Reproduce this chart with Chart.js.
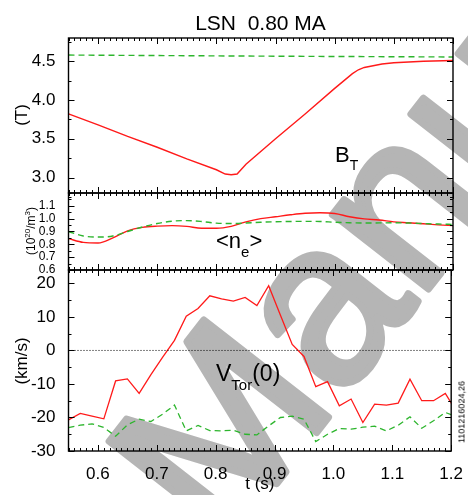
<!DOCTYPE html>
<html lang="en">
<head>
    <meta charset="UTF-8">
    <title>LSN 0.80 MA</title>
    <style>
        * { margin: 0; padding: 0; box-sizing: border-box; }
        body { width: 468px; height: 495px; overflow: hidden; background: #fff; position: relative; font-family: "Liberation Sans", Arial, sans-serif; color: #000; }
        canvas, svg { position: absolute; left: 0; top: 0; }
        .lbl { position: absolute; line-height: 1; white-space: pre; }
        .rot { position: absolute; white-space: nowrap; line-height: 1; transform: translate(-50%, -50%) rotate(-90deg); }
        .sub { position: relative; }
    </style>
    <script src="https://cdn.jsdelivr.net/npm/chart.js"></script>
</head>
<body>
    <!-- watermark sits under the plots -->
    <svg width="468" height="495">
        <g transform="rotate(8 200 420)">
            <g transform="translate(240.5,549) rotate(-60)" font-family="Liberation Sans, Arial, sans-serif" font-size="230"
               fill="#b5b5b5" stroke="#b5b5b5" stroke-width="7" stroke-linejoin="round">
                <text x="-64" text-anchor="end">Accepted</text>
                <text x="0">Manuscript</text>
            </g>
        </g>
    </svg>

    <canvas id="btChart" width="468" height="495"></canvas>
    <canvas id="neChart" width="468" height="495"></canvas>
    <canvas id="vChart" width="468" height="495"></canvas>

    <div class="lbl" style="left:0; width:521px; text-align:center; top:12px; font-size:21px;">LSN  0.80 MA</div>
    <div class="rot" style="left:21px; top:115px; font-size:17px;">(T)</div>
    <div class="rot" style="left:30px; top:231px; font-size:12px;">(10<sup style="font-size:8px">20</sup>/m<sup style="font-size:8px">3</sup>)</div>
    <div class="rot" style="left:21px; top:361px; font-size:17px;">(km/s)</div>
    <div class="rot" style="left:462px; top:412px; font-size:9px;">1101216024,26</div>

    <div class="lbl" style="left:335px; top:144px; font-size:22px;">B<span class="sub" style="font-size:14px; top:8px;">T</span></div>
    <div class="lbl" style="left:216px; top:230px; font-size:22px;">&lt;n<span class="sub" style="font-size:15px; top:9px;">e</span>&gt;</div>
    <div class="lbl" style="left:216px; top:362px; font-size:23px;">V<span class="sub" style="font-size:15px; top:9px;">Tor</span>(0)</div>

    <script>
        // time axis
        const xMin = 0.55, xMax = 1.2;
        const xTicks = [0.6, 0.7, 0.8, 0.9, 1.0, 1.1, 1.2];

        // B_T panel
        const tBT = [0.55, 0.60, 0.65, 0.70, 0.75, 0.80, 0.815, 0.825, 0.835, 0.85, 0.90, 0.95, 1.00, 1.03, 1.04, 1.05, 1.08, 1.10, 1.15, 1.20];
        const btRed = [3.82, 3.68, 3.53, 3.39, 3.24, 3.10, 3.045, 3.035, 3.045, 3.17, 3.50, 3.82, 4.15, 4.34, 4.39, 4.42, 4.465, 4.48, 4.50, 4.51];
        const tBTref = [0.55, 0.90, 1.20];
        const btGreen = [4.58, 4.565, 4.555];
        const btTicks = [3.0, 3.5, 4.0, 4.5];

        // <n_e> panel
        const tNe = [0.55, 0.575, 0.60, 0.625, 0.65, 0.675, 0.70, 0.725, 0.75, 0.775, 0.80, 0.825, 0.85, 0.875, 0.90,
                     0.925, 0.95, 0.975, 1.00, 1.025, 1.05, 1.075, 1.10, 1.125, 1.15, 1.175, 1.20];
        const neRed = [0.845, 0.815, 0.81, 0.85, 0.905, 0.932, 0.942, 0.946, 0.94, 0.925, 0.925, 0.94, 0.975, 1.0, 1.015,
                       1.03, 1.042, 1.046, 1.04, 1.015, 0.998, 0.99, 0.975, 0.968, 0.96, 0.952, 0.946];
        const neGreen = [0.90, 0.865, 0.857, 0.865, 0.90, 0.935, 0.962, 0.98, 0.985, 0.978, 0.965, 0.962, 0.966, 0.972, 0.976,
                         0.978, 0.979, 0.978, 0.972, 0.968, 0.966, 0.967, 0.968, 0.966, 0.962, 0.958, 0.955];
        const neTicks = [0.6, 0.7, 0.8, 0.9, 1.0, 1.1];

        // V_Tor(0) panel
        const tV = [0.55, 0.57, 0.59, 0.61, 0.63, 0.65, 0.67, 0.69, 0.71, 0.73, 0.75, 0.77, 0.79, 0.81, 0.83, 0.85, 0.87,
                    0.89, 0.91, 0.93, 0.95, 0.97, 0.99, 1.01, 1.03, 1.05, 1.07, 1.09, 1.11, 1.13, 1.15, 1.17, 1.19, 1.21];
        const vRed = [-20.7, -18.8, -19.6, -20.4, -9.1, -8.5, -12.8, -7.2, -2.0, 3.0, 10.2, 12.5, 16.3, 15.4, 14.7, 15.8, 13.4,
                      19.3, 10.5, 1.8, -1.8, -10.8, -9.3, -16.5, -14.5, -21.5, -16.0, -16.3, -15.7, -8.6, -15.0, -15.0, -12.8, -18.5];
        const vGreen = [-23.0, -22.3, -21.9, -23.0, -25.6, -22.2, -20.5, -21.2, -19.0, -16.3, -24.0, -22.4, -23.9, -24.0, -23.8, -25.0, -25.2,
                        -22.5, -20.0, -19.6, -20.5, -27.2, -25.0, -23.3, -23.5, -22.9, -22.6, -24.0, -22.3, -19.8, -23.2, -21.0, -18.5, -19.8];
        const tZero = [0.55, 1.2];
        const vZero = [0, 0];
        const vTicks = [-30, -20, -10, 0, 10, 20];

        const RED = '#ff1a1a', GREEN = '#2db52d';
        const tickFont = { family: '"Liberation Sans", Arial, sans-serif', size: 17 };

        const pts = (xs, ys) => xs.map((x, i) => ({ x: x, y: ys[i] }));

        // box around each panel, ticks pointing inwards on all four sides
        const frameTicks = {
            id: 'frameTicks',
            afterDatasetsDraw(chart, args, opts) {
                const { ctx, chartArea: a, scales: { x, y } } = chart;
                ctx.save();
                ctx.strokeStyle = '#000';
                ctx.lineWidth = 1;
                ctx.beginPath();
                for (let i = 55; i <= 120; i++) {
                    const px = Math.round(x.getPixelForValue(i / 100)) + 0.5;
                    const len = i % 10 === 0 ? 6 : 3;
                    ctx.moveTo(px, a.bottom); ctx.lineTo(px, a.bottom - len);
                    ctx.moveTo(px, a.top); ctx.lineTo(px, a.top + len);
                }
                for (let v = opts.minorFrom; v <= y.max + 1e-9; v += opts.minorStep) {
                    const py = Math.round(y.getPixelForValue(v)) + 0.5;
                    const major = opts.major.some(m => Math.abs(m - v) < 1e-6);
                    const len = major ? 6 : 3;
                    ctx.moveTo(a.left, py); ctx.lineTo(a.left + len, py);
                    ctx.moveTo(a.right, py); ctx.lineTo(a.right - len, py);
                }
                ctx.stroke();
                ctx.lineWidth = 1.4;
                ctx.strokeRect(a.left, a.top, a.right - a.left, a.bottom - a.top);
                ctx.restore();
            }
        };

        function makePanel(id, pad, yMin, yMax, yTicks, minorFrom, minorStep, yFont, datasets, showX) {
            return new Chart(document.getElementById(id), {
                type: 'line',
                data: { datasets: datasets },
                options: {
                    responsive: false,
                    animation: false,
                    layout: { padding: pad },
                    elements: { point: { radius: 0 } },
                    plugins: {
                        legend: { display: false },
                        tooltip: { enabled: false },
                        frameTicks: { major: yTicks, minorFrom: minorFrom, minorStep: minorStep }
                    },
                    scales: {
                        x: {
                            type: 'linear', min: xMin, max: xMax, display: showX,
                            afterBuildTicks: s => { s.ticks = xTicks.map(v => ({ value: v })); },
                            afterFit: s => { s.height = showX ? 44 : 0; },
                            grid: { display: false }, border: { display: false },
                            ticks: { font: tickFont, color: '#000', padding: 5, maxRotation: 0, autoSkip: false,
                                     callback: v => v.toFixed(1) },
                            title: { display: true, text: 't (s)', color: '#000', font: tickFont, padding: 0 }
                        },
                        y: {
                            min: yMin, max: yMax,
                            afterBuildTicks: s => { s.ticks = yTicks.map(v => ({ value: v })); },
                            afterFit: s => { s.width = 68.5; },
                            grid: { display: false }, border: { display: false },
                            ticks: { font: yFont, color: '#000', padding: 5, autoSkip: false,
                                     callback: v => yMax > 5 ? String(v) : v.toFixed(1) }
                        }
                    }
                },
                plugins: [frameTicks]
            });
        }

        makePanel('btChart', { left: 0, right: 15, top: 38, bottom: 302 }, 2.8, 4.8, btTicks, 2.75, 0.25, tickFont, [
            { data: pts(tBTref, btGreen), borderColor: GREEN, borderWidth: 1.4, borderDash: [6, 4] },
            { data: pts(tBT, btRed), borderColor: RED, borderWidth: 1.4 }
        ], false);

        makePanel('neChart', { left: 0, right: 15, top: 193, bottom: 225 }, 0.6, 1.2, neTicks, 0.6, 0.05,
            { family: '"Liberation Sans", Arial, sans-serif', size: 12 }, [
            { data: pts(tNe, neGreen), borderColor: GREEN, borderWidth: 1.4, borderDash: [6, 4], cubicInterpolationMode: 'monotone' },
            { data: pts(tNe, neRed), borderColor: RED, borderWidth: 1.4, cubicInterpolationMode: 'monotone' }
        ], false);

        makePanel('vChart', { left: 0, right: 15, top: 270, bottom: 0 }, -30, 24, vTicks, -30, 5, tickFont, [
            { data: pts(tZero, vZero), borderColor: '#000', borderWidth: 1, borderDash: [1, 2] },
            { data: pts(tV, vGreen), borderColor: GREEN, borderWidth: 1.3, borderDash: [6, 4] },
            { data: pts(tV, vRed), borderColor: RED, borderWidth: 1.3 }
        ], true);
    </script>
</body>
</html>
